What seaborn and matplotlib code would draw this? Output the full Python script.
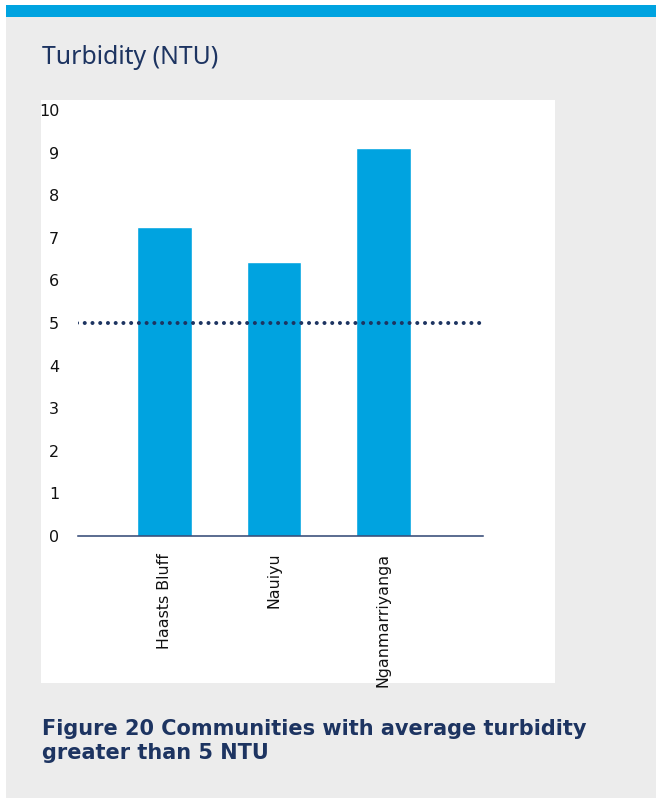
import matplotlib
matplotlib.use("Agg")
import matplotlib.pyplot as plt
from matplotlib.patches import Rectangle
import pandas as pd
import seaborn as sns

# Average turbidity per community (NTU)
communities = ["Haasts Bluff", "Nauiyu", "Nganmarriyanga"]
turbidity = [7.25, 6.43, 9.11]
guideline_ntu = 5
y_ticks = [0, 1, 2, 3, 4, 5, 6, 7, 8, 9, 10]

title_text = "Turbidity (NTU)"
caption_text = "Figure 20 Communities with average turbidity\ngreater than 5 NTU"

BLUE = "#00a3e0"
NAVY = "#1d3461"
PANEL_GREY = "#ececec"

sns.set_theme(style="white")
plt.rcParams["font.family"] = ["DejaVu Sans"]

W, H = 656, 799
fig = plt.figure(figsize=(W / 100, H / 100), dpi=100, facecolor="white")


def fig_box(x0, y0, x1, y1):
    """Pixel box (top-left origin) -> figure-fraction rectangle."""
    return (x0 / W, 1 - y1 / H, (x1 - x0) / W, (y1 - y0) / H)


# grey card, blue top strip and white chart panel
for (x0, y0, x1, y1), col in [((6, 5, 656, 798), PANEL_GREY),
                              ((6, 5, 656, 17), BLUE),
                              ((41, 100, 555, 683), "white")]:
    l, b, w, h = fig_box(x0, y0, x1, y1)
    fig.add_artist(Rectangle((l, b), w, h, transform=fig.transFigure,
                             facecolor=col, edgecolor="none", zorder=0))

fig.text(41.5 / W, 1 - 57 / H, title_text, color=NAVY, fontsize=17.9,
         ha="left", va="center", family=["Noto Sans", "DejaVu Sans"])

fig.text(42 / W, 1 - 741 / H, caption_text, color=NAVY, fontsize=15,
         fontweight="bold", ha="left", va="center", linespacing=1.25,
         family=["DejaVu Sans"])

ax = fig.add_axes(fig_box(78, 110, 483, 536))
ax.set_facecolor("none")

df = pd.DataFrame({"community": communities, "turbidity": turbidity})
sns.barplot(data=df, x="community", y="turbidity", color=BLUE,
            saturation=1, width=0.5, ax=ax, zorder=2)

ax.hlines(guideline_ntu, -0.80, 2.88, colors=NAVY, linestyles=(0, (0.01, 1.91)),
          linewidth=2.9, capstyle="round", zorder=3)

ax.set_xlim(-0.79, 2.91)
ax.set_ylim(0, 10)
ax.set_yticks(y_ticks)
ax.set_yticklabels([str(t) for t in y_ticks])
ax.set_xlabel("")
ax.set_ylabel("")

for s in ["top", "right", "left"]:
    ax.spines[s].set_visible(False)
ax.spines["bottom"].set_color("#2e4472")
ax.spines["bottom"].set_linewidth(1.1)
ax.spines["bottom"].set_zorder(4)

ax.tick_params(axis="y", length=0, pad=13.5, labelsize=11.5, labelcolor="#111111")
ax.tick_params(axis="x", length=0, pad=12, labelsize=11.4, labelcolor="#111111")
for lab in ax.get_xticklabels():
    lab.set_rotation(90)
    lab.set_ha("center")
    lab.set_va("top")
ax.grid(False)

fig.savefig("out.png", dpi=100, facecolor="white")
